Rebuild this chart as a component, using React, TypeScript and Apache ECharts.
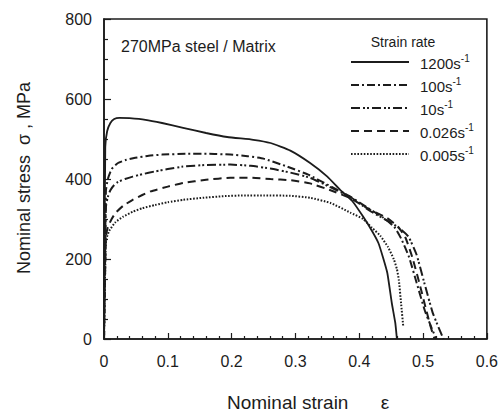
import React, { useEffect, useRef } from 'react';
import * as echarts from 'echarts';

const seriesNames = ['1200', '100', '10', '0.026', '0.005'];

const strain1200 = [0, 0.002, 0.005, 0.01, 0.016, 0.024, 0.04, 0.065, 0.091, 0.124, 0.16, 0.193, 0.234, 0.261, 0.292, 0.323, 0.35, 0.37, 0.389, 0.406, 0.42, 0.43, 0.437, 0.444, 0.451, 0.4565, 0.459];
const stress1200 = [0, 480, 520, 540, 550, 553, 552, 548, 540, 528, 515, 505, 498, 490, 471, 440, 406, 373, 345, 306, 270, 240, 205, 165, 90, 40, 0];

const strain100 = [0, 0.003, 0.006, 0.012, 0.022, 0.035, 0.049, 0.07, 0.091, 0.13, 0.165, 0.198, 0.225, 0.25, 0.287, 0.32, 0.35, 0.386, 0.413, 0.438, 0.455, 0.466, 0.478, 0.49, 0.503, 0.514, 0.521];
const stress100 = [0, 370, 400, 425, 440, 448, 453, 458, 461, 463, 463, 461, 457, 451, 431, 411, 386, 356, 328, 303, 280, 250, 205, 140, 70, 25, 0];

const strain10 = [0, 0.003, 0.006, 0.01, 0.016, 0.022, 0.033, 0.045, 0.06, 0.08, 0.1, 0.124, 0.16, 0.198, 0.23, 0.261, 0.292, 0.323, 0.35, 0.386, 0.417, 0.444, 0.462, 0.477, 0.49, 0.502, 0.515, 0.524, 0.532];
const stress10 = [0, 330, 355, 372, 385, 393, 400, 406, 412, 419, 425, 431, 435, 436, 433, 426, 416, 403, 383, 355, 320, 296, 278, 256, 210, 140, 66, 30, 0];

const strain0026 = [0, 0.003, 0.006, 0.012, 0.018, 0.03, 0.045, 0.06, 0.073, 0.1, 0.124, 0.16, 0.198, 0.23, 0.261, 0.292, 0.323, 0.355, 0.386, 0.417, 0.444, 0.461, 0.472, 0.483, 0.495, 0.506, 0.512, 0.518];
const stress0026 = [0, 255, 280, 300, 315, 333, 348, 360, 369, 381, 390, 398, 403, 403, 400, 397, 389, 372, 352, 323, 302, 280, 255, 205, 135, 66, 30, 0];

const strain0005 = [0, 0.003, 0.008, 0.018, 0.03, 0.045, 0.06, 0.08, 0.1, 0.124, 0.155, 0.187, 0.22, 0.25, 0.292, 0.323, 0.355, 0.386, 0.406, 0.42, 0.433, 0.445, 0.454, 0.459, 0.462, 0.4655, 0.469];
const stress0005 = [0, 245, 270, 292, 306, 318, 327, 335, 342, 348, 353, 357, 359, 359, 358, 353, 340, 316, 300, 278, 258, 230, 200, 175, 148, 90, 30];

const strainData = [strain1200, strain100, strain10, strain0026, strain0005];
const stressData = [stress1200, stress100, stress10, stress0026, stress0005];

const dashes: any[] = ['solid', [8, 3, 2, 3], [9, 3, 2, 2, 2, 3], [8, 5], [1.6, 1.6]];
const widths = [1.8, 2, 2, 2, 2];

const INK = '#1c1c1c';
const FONT = "'Liberation Sans', Arial, Helvetica, sans-serif";

export default function App() {
  const ref = useRef<HTMLDivElement>(null);
  useEffect(() => {
    const chart = echarts.init(ref.current!, null, { renderer: 'svg' });
    const series = seriesNames.map((name, i) => ({
      name,
      type: 'line',
      symbol: 'none',
      showSymbol: false,
      smooth: 0.15,
      data: strainData[i].map((x, j) => [x, stressData[i][j]]),
      lineStyle: { color: INK, width: widths[i], type: dashes[i] },
      itemStyle: { color: INK },
      z: 3,
    }));
    const option: any = {
      animation: false,
      backgroundColor: '#ffffff',
      textStyle: { fontFamily: FONT, color: INK },
      grid: {
        left: 104,
        right: 14,
        top: 19,
        bottom: 74,
        show: true,
        borderColor: INK,
        borderWidth: 1.6,
        backgroundColor: 'transparent',
      },
      xAxis: {
        type: 'value',
        min: 0,
        max: 0.6,
        interval: 0.1,
        axisLine: { show: true, lineStyle: { color: INK, width: 1.6 } },
        axisTick: { show: true, inside: true, length: 6, lineStyle: { color: INK, width: 1.2 } },
        minorTick: { show: true, splitNumber: 5, length: 3, lineStyle: { color: INK, width: 1.2 } },
        splitLine: { show: false },
        axisLabel: { fontSize: 16, color: INK, margin: 14, fontFamily: FONT },
      },
      yAxis: {
        type: 'value',
        min: 0,
        max: 800,
        interval: 200,
        axisLine: { show: true, lineStyle: { color: INK, width: 1.6 } },
        axisTick: { show: true, inside: true, length: 7, lineStyle: { color: INK, width: 1.2 } },
        minorTick: { show: true, splitNumber: 4, length: 4, lineStyle: { color: INK, width: 1.2 } },
        splitLine: { show: false },
        axisLabel: { fontSize: 16, color: INK, margin: 12, fontFamily: FONT },
      },
      legend: {
        orient: 'vertical',
        left: 345,
        top: 48,
        itemWidth: 58,
        itemHeight: 14,
        itemGap: 5,
        selectedMode: false,
        data: seriesNames,
        itemStyle: { opacity: 0 },
        formatter: (name: string) => `{n|${name}s}{s|-1}`,
        textStyle: {
          color: INK,
          fontFamily: FONT,
          padding: [0, 0, 0, 6],
          rich: {
            n: { fontSize: 15, color: INK, fontFamily: FONT, verticalAlign: 'bottom', lineHeight: 18 },
            s: { fontSize: 10, color: INK, fontFamily: FONT, verticalAlign: 'top', lineHeight: 10 },
          },
        },
      },
      graphic: [
        {
          type: 'text',
          left: 121,
          top: 38,
          style: { text: '270MPa steel / Matrix', fontSize: 16, fill: INK, fontFamily: FONT },
        },
        {
          type: 'text',
          x: 403,
          y: 42,
          style: { text: 'Strain rate', fontSize: 14, fill: INK, fontFamily: FONT, align: 'center', verticalAlign: 'middle' },
        },
        {
          type: 'text',
          x: 227,
          y: 402,
          style: { text: 'Nominal strain', fontSize: 19, fill: INK, fontFamily: FONT, align: 'left', verticalAlign: 'middle' },
        },
        {
          type: 'text',
          x: 385,
          y: 402,
          style: { text: 'ε', fontSize: 19, fill: INK, fontFamily: FONT, align: 'center', verticalAlign: 'middle' },
        },
        {
          type: 'text',
          x: 24,
          y: 178,
          rotation: Math.PI / 2,
          style: { text: 'Nominal stress  σ , MPa', fontSize: 18, fill: INK, fontFamily: FONT, align: 'center', verticalAlign: 'middle' },
        },
      ],
      series,
    };
    chart.setOption(option);
    return () => chart.dispose();
  }, []);
  return (
    <div
      ref={ref}
      style={{ position: 'fixed', left: 0, top: 0, width: 501, height: 413, background: '#fff' }}
    />
  );
}
